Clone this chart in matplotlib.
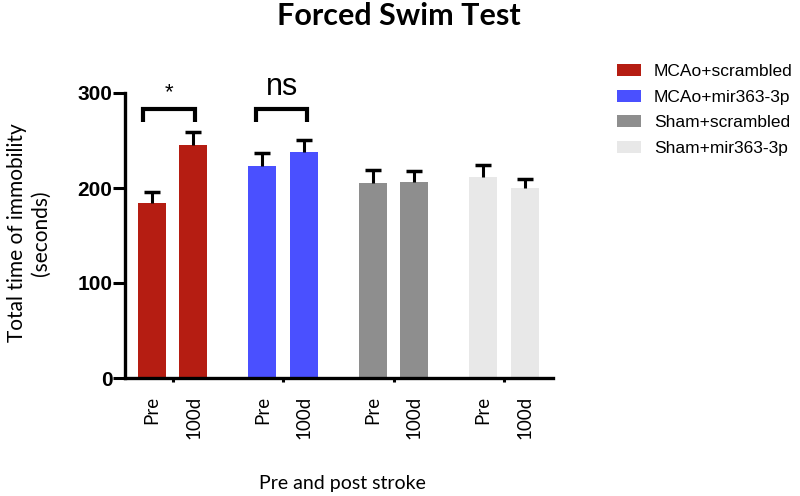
import matplotlib
matplotlib.use("Agg")
import matplotlib.pyplot as plt
import numpy as np

# --- data ---
groups = ['MCAo+scrambled', 'MCAo+mir363-3p', 'Sham+scrambled', 'Sham+mir363-3p']
timepoints = ['Pre', '100d']
means = [[184, 245], [223, 238], [205, 206], [212, 200]]
sems = [[12, 14], [14, 13], [14, 12], [12, 10]]
colors = ['#B51D12', '#4A50FF', '#8E8E8E', '#E8E8E8']
yticks = [0, 100, 200, 300]

# layout (units: group spacing = 1)
bar_off = 20.75 / 110.4
bar_w = 28 / 110.4

fig = plt.figure(figsize=(8, 4.96), dpi=100)
ax = fig.add_axes([125 / 800, 1 - 378 / 496, 428 / 800, 285 / 496])

tick_pos, tick_lab = [], []
for g, name in enumerate(groups):
    xs = np.array([g - bar_off, g + bar_off])
    m = np.array(means[g])
    e = np.array(sems[g])
    ax.bar(xs, m, width=bar_w, color=colors[g], edgecolor='none',
           label=name, zorder=2)
    # upper error bar only, cap at the top
    ax.errorbar(xs, m, yerr=[np.zeros(2), e], fmt='none', ecolor='black',
                elinewidth=2.2, capsize=0, zorder=3)
    ax.plot(xs, m + e, ls='none', marker='_', ms=12, mew=2.5, color='black', zorder=3)
    tick_pos += list(xs)
    tick_lab += timepoints

ax.set_xlim(-(172.7 - 125) / 110.4, (553 - 172.7) / 110.4)
ax.set_ylim(0, 300)
ax.set_yticks(yticks)
for lab in ax.set_yticklabels([str(v) for v in yticks]):
    lab.set_fontfamily('Liberation Sans')
    lab.set_fontweight('bold')
    lab.set_fontsize(15)
ax.tick_params(axis='y', length=9, width=2.2, pad=0, direction='out')

ax.set_xticks(tick_pos)
ax.set_xticklabels(tick_lab, rotation=90, fontsize=13.5, family='Lato')
ax.set_xticks(range(len(groups)), minor=True)
ax.tick_params(axis='x', which='major', length=0, pad=13)
ax.tick_params(axis='x', which='minor', length=3, width=2.2, direction='out')

for s in ['top', 'right']:
    ax.spines[s].set_visible(False)
for s in ['left', 'bottom']:
    ax.spines[s].set_linewidth(2.4)

# significance brackets
def bracket(x0, x1, y_top, y_bot, text, ty, size):
    ax.plot([x0, x0, x1, x1], [y_bot, y_top, y_top, y_bot], color='black',
            lw=3, solid_capstyle='butt', solid_joinstyle='miter', clip_on=False)
    ax.text((x0 + x1) / 2, ty, text, ha='center', va='center',
            fontsize=size, family='Liberation Sans', clip_on=False)

bracket(0 - 30 / 110.4, 0 + 22 / 110.4, 283, 269, '*', 300, 16)
bracket(1 - 27 / 110.4, 1 + 24 / 110.4, 283, 269, 'ns', 306, 22)

fig.text(29 / 800, 1 - 233 / 496, 'Total time of immobility\n(seconds)',
         rotation=90, ha='center', va='center', multialignment='center',
         fontsize=15, family='Lato', linespacing=1.2)
fig.text(342 / 800, 1 - 483 / 496, 'Pre and post stroke', ha='center',
         va='center', fontsize=14, family='Lato')

fig.text(277 / 800, 1 - 16 / 496, 'Forced Swim Test', ha='left', va='center',
         fontsize=22, fontweight='bold', family='Lato')

fig.legend(loc='upper left', bbox_to_anchor=(617 / 800, 1 - 64 / 496),
           frameon=False, prop={'family': 'Liberation Sans', 'size': 12.5},
           handlelength=1.38, handleheight=0.69, handletextpad=0.75,
           labelspacing=0.6, borderaxespad=0, borderpad=0)

fig.savefig('out.png', dpi=100)
